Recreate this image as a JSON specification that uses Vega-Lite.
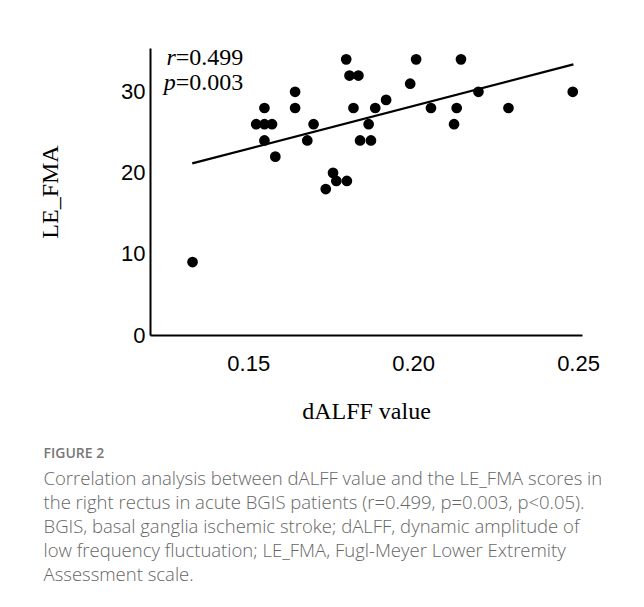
{
  "$schema": "https://vega.github.io/schema/vega-lite/v6.json",
  "width": 432,
  "height": 287,
  "autosize": {"type": "none"},
  "padding": {"left": 150, "top": 48, "right": 62, "bottom": 272},
  "background": "white",
  "config": {"view": {"stroke": null}},
  "title": {
    "text": "FIGURE 2",
    "subtitle": [
      "Correlation analysis between dALFF value and the LE_FMA scores in",
      "the right rectus in acute BGIS patients (r=0.499, p=0.003, p<0.05).",
      "BGIS, basal ganglia ischemic stroke; dALFF, dynamic amplitude of",
      "low frequency fluctuation; LE_FMA, Fugl-Meyer Lower Extremity",
      "Assessment scale."
    ],
    "orient": "bottom",
    "anchor": "start",
    "frame": "bounds",
    "dx": 5,
    "offset": 24,
    "font": "Open Sans",
    "fontSize": 14,
    "fontWeight": 600,
    "color": "#777777",
    "subtitleFont": "Open Sans",
    "subtitleFontSize": 18.5,
    "subtitleFontWeight": 300,
    "subtitleColor": "#666666",
    "subtitleLineHeight": 24,
    "subtitlePadding": 9
  },
  "datasets": {
    "points": [
      {"dALFF": 0.1331, "LE_FMA": 9},
      {"dALFF": 0.1524, "LE_FMA": 26},
      {"dALFF": 0.1549, "LE_FMA": 26},
      {"dALFF": 0.1572, "LE_FMA": 26},
      {"dALFF": 0.1549, "LE_FMA": 28},
      {"dALFF": 0.1549, "LE_FMA": 24},
      {"dALFF": 0.1582, "LE_FMA": 22},
      {"dALFF": 0.1642, "LE_FMA": 30},
      {"dALFF": 0.1642, "LE_FMA": 28},
      {"dALFF": 0.1679, "LE_FMA": 24},
      {"dALFF": 0.1698, "LE_FMA": 26},
      {"dALFF": 0.1735, "LE_FMA": 18},
      {"dALFF": 0.1757, "LE_FMA": 20},
      {"dALFF": 0.1767, "LE_FMA": 19},
      {"dALFF": 0.1799, "LE_FMA": 19},
      {"dALFF": 0.1797, "LE_FMA": 34},
      {"dALFF": 0.1807, "LE_FMA": 32},
      {"dALFF": 0.1834, "LE_FMA": 32},
      {"dALFF": 0.1819, "LE_FMA": 28},
      {"dALFF": 0.1839, "LE_FMA": 24},
      {"dALFF": 0.1872, "LE_FMA": 24},
      {"dALFF": 0.1865, "LE_FMA": 26},
      {"dALFF": 0.1885, "LE_FMA": 28},
      {"dALFF": 0.1918, "LE_FMA": 29},
      {"dALFF": 0.1991, "LE_FMA": 31},
      {"dALFF": 0.2009, "LE_FMA": 34},
      {"dALFF": 0.2054, "LE_FMA": 28},
      {"dALFF": 0.2124, "LE_FMA": 26},
      {"dALFF": 0.2132, "LE_FMA": 28},
      {"dALFF": 0.2145, "LE_FMA": 34},
      {"dALFF": 0.2198, "LE_FMA": 30},
      {"dALFF": 0.2289, "LE_FMA": 28},
      {"dALFF": 0.2484, "LE_FMA": 30}
    ],
    "fit": [
      {"dALFF": 0.1330, "LE_FMA": 21.17},
      {"dALFF": 0.2486, "LE_FMA": 33.38}
    ],
    "stats": [
      {"symbol": "r", "value": "=0.499", "dALFF": 0.128, "LE_FMA": 34.15},
      {"symbol": "p", "value": "=0.003", "dALFF": 0.128, "LE_FMA": 31.03}
    ]
  },
  "encoding": {
    "x": {
      "field": "dALFF",
      "type": "quantitative",
      "scale": {"domain": [0.1202, 0.2512], "nice": false, "zero": false},
      "axis": {
        "title": "dALFF value",
        "titleFont": "Liberation Serif",
        "titleFontSize": 24,
        "titleFontWeight": "normal",
        "titleColor": "black",
        "titlePadding": 25,
        "labelFont": "Liberation Sans",
        "labelFontSize": 22,
        "labelColor": "black",
        "labelPadding": 18,
        "values": [0.15, 0.2, 0.25],
        "format": ".2f",
        "ticks": false,
        "grid": false,
        "domainColor": "black",
        "domainWidth": 2
      }
    },
    "y": {
      "field": "LE_FMA",
      "type": "quantitative",
      "scale": {"domain": [0, 35.4], "nice": false},
      "axis": {
        "title": "LE_FMA",
        "titleFont": "Liberation Serif",
        "titleFontSize": 24,
        "titleFontWeight": "normal",
        "titleColor": "black",
        "titlePadding": 58,
        "labelFont": "Liberation Sans",
        "labelFontSize": 22,
        "labelColor": "black",
        "labelPadding": 5,
        "values": [0, 10, 20, 30],
        "ticks": false,
        "grid": false,
        "domainColor": "black",
        "domainWidth": 2
      }
    }
  },
  "layer": [
    {
      "data": {"name": "points"},
      "mark": {"type": "circle", "size": 115, "opacity": 1, "color": "black"}
    },
    {
      "data": {"name": "fit"},
      "mark": {"type": "line", "color": "black", "strokeWidth": 2.2}
    },
    {
      "data": {"name": "stats"},
      "mark": {"type": "text", "font": "Liberation Serif", "fontSize": 24, "fontStyle": "italic", "align": "right", "baseline": "middle", "color": "black"},
      "encoding": {"text": {"field": "symbol"}}
    },
    {
      "data": {"name": "stats"},
      "mark": {"type": "text", "font": "Liberation Serif", "fontSize": 24, "align": "left", "baseline": "middle", "color": "black"},
      "encoding": {"text": {"field": "value"}}
    }
  ]
}
